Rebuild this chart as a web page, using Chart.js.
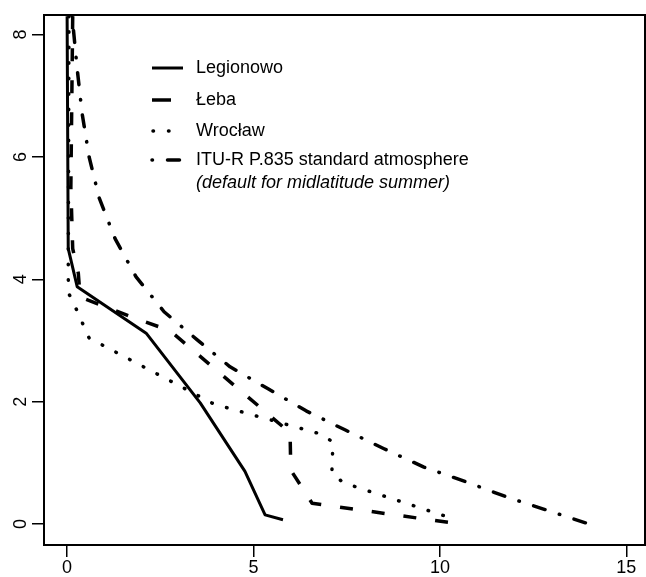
<!DOCTYPE html>
<html>
<head>
<meta charset="utf-8">
<script src="https://cdn.jsdelivr.net/npm/chart.js@4.4.1/dist/chart.umd.min.js"></script>
<style>
  body { margin: 0; background: #fff; }
  canvas { display: block; }
</style>
</head>
<body>
<canvas id="myChart" width="646" height="577"></canvas>
<script>
// water vapour density (x) against height (y)
var vapourTicks = [0, 5, 10, 15];
var heightTicks = [0, 2, 4, 6, 8];

var labels = ['Legionowo', 'Łeba', 'Wrocław', 'ITU-R P.835 standard atmosphere'];
var noteLabel = '(default for midlatitude summer)';

var legionowoVapour = [0.0, 0.03, 0.27, 2.12, 3.57, 4.77, 5.31, 5.79];
var legionowoHeight = [8.3, 4.5, 3.88, 3.12, 1.98, 0.86, 0.15, 0.07];

var lebaVapour = [0.15, 0.1, 0.15, 0.3, 0.35, 1.88, 2.76, 5.98, 6.0, 6.57, 10.54];
var lebaHeight = [8.3, 5.5, 4.5, 4.1, 3.71, 3.35, 3.16, 1.49, 0.88, 0.34, 0.0];

var wroclawVapour = [0.05, 0.03, 0.05, 0.24, 0.59, 3.94, 6.81, 7.13, 7.10, 7.43, 10.24];
var wroclawHeight = [8.3, 4.02, 3.76, 3.52, 3.04, 1.96, 1.47, 1.34, 0.82, 0.67, 0.11];

var refVapour = [0.13, 0.16, 0.27, 0.40, 0.59, 0.86, 1.29, 1.85, 2.60, 3.49, 4.37, 5.39, 6.41, 7.45, 8.50, 9.57, 10.70, 11.80, 14.0];
var refHeight = [8.32, 8.14, 7.44, 6.72, 6.0, 5.33, 4.66, 4.04, 3.47, 3.01, 2.57, 2.21, 1.85, 1.54, 1.23, 0.93, 0.69, 0.44, 0.0];

function pairs(xs, ys) {
    var out = [];
    for (var i = 0; i < xs.length; i++) out.push({x: xs[i], y: ys[i]});
    return out;
}

var font = '"Liberation Sans", Arial, sans-serif';

var datasets = [
    {label: labels[0], data: pairs(legionowoVapour, legionowoHeight), borderWidth: 3, borderDash: [], borderCapStyle: 'butt'},
    {label: labels[1], data: pairs(lebaVapour, lebaHeight), borderWidth: 3.5, borderDash: [13, 19], borderCapStyle: 'butt'},
    {label: labels[2], data: pairs(wroclawVapour, wroclawHeight), borderWidth: 3.5, borderDash: [0.5, 15], borderCapStyle: 'round'},
    {label: labels[3], data: pairs(refVapour, refHeight), borderWidth: 3.5, borderDash: [0.5, 15, 12, 15], borderCapStyle: 'round'}
];
datasets.forEach(function (d) {
    d.showLine = true;
    d.borderColor = '#000';
    d.backgroundColor = '#000';
    d.pointRadius = 0;
    d.tension = 0;
    d.fill = false;
    d.borderJoinStyle = 'round';
});

// legend sample lengths, same order as the datasets
var sampleEnds = [183, 171, 172, 182];

// box round the plot, rotated y labels and the legend
var decor = {
    id: 'decor',
    afterDraw: function (chart) {
        var ctx = chart.ctx;
        var a = chart.chartArea;
        ctx.save();
        ctx.strokeStyle = '#000';
        ctx.lineWidth = 2;
        ctx.strokeRect(a.left, a.top, a.right - a.left, a.bottom - a.top);

        var ys = chart.scales.y;
        ctx.fillStyle = '#000';
        ctx.font = '18px ' + font;
        ctx.textAlign = 'center';
        ctx.textBaseline = 'middle';
        heightTicks.forEach(function (v) {
            var py = ys.getPixelForValue(v);
            ctx.save();
            ctx.translate(21, py);
            ctx.rotate(-Math.PI / 2);
            ctx.fillText(String(v), 0, 0);
            ctx.restore();
        });

        var rows = [68, 100, 131, 160];
        chart.data.datasets.forEach(function (d, i) {
            ctx.save();
            ctx.lineWidth = d.borderWidth;
            ctx.lineCap = d.borderCapStyle;
            ctx.setLineDash(i === 1 ? [] : d.borderDash);
            ctx.beginPath();
            ctx.moveTo(i === 2 ? 153 : 152, rows[i]);
            ctx.lineTo(sampleEnds[i], rows[i]);
            ctx.stroke();
            ctx.restore();
            ctx.textAlign = 'left';
            ctx.fillText(d.label, 196, rows[i]);
        });
        ctx.font = 'italic 18px ' + font;
        ctx.textAlign = 'left';
        ctx.fillText(noteLabel, 196, 183);
        ctx.restore();
    }
};

var ctx = document.getElementById('myChart').getContext('2d');
var chart = new Chart(ctx, {
    type: 'scatter',
    data: {datasets: datasets},
    options: {
        responsive: false,
        animation: false,
        layout: {padding: {top: 15, right: 1, left: 0, bottom: 0}},
        plugins: {legend: {display: false}, tooltip: {enabled: false}},
        scales: {
            x: {
                type: 'linear',
                min: -0.62,
                max: 15.5,
                afterBuildTicks: function (s) { s.ticks = vapourTicks.map(function (v) { return {value: v}; }); },
                afterFit: function (s) { s.height = 32; },
                border: {display: false},
                grid: {drawOnChartArea: false, drawTicks: true, tickLength: 12, color: '#000', lineWidth: 1.5},
                ticks: {color: '#000', padding: 0, maxRotation: 0, font: {family: font, size: 18}}
            },
            y: {
                type: 'linear',
                min: -0.343,
                max: 8.32,
                afterBuildTicks: function (s) { s.ticks = heightTicks.map(function (v) { return {value: v}; }); },
                afterFit: function (s) { s.width = 44; },
                border: {display: false},
                grid: {drawOnChartArea: false, drawTicks: true, tickLength: 12, color: '#000', lineWidth: 1.5},
                ticks: {display: false}
            }
        }
    },
    plugins: [decor]
});
</script>
</body>
</html>
